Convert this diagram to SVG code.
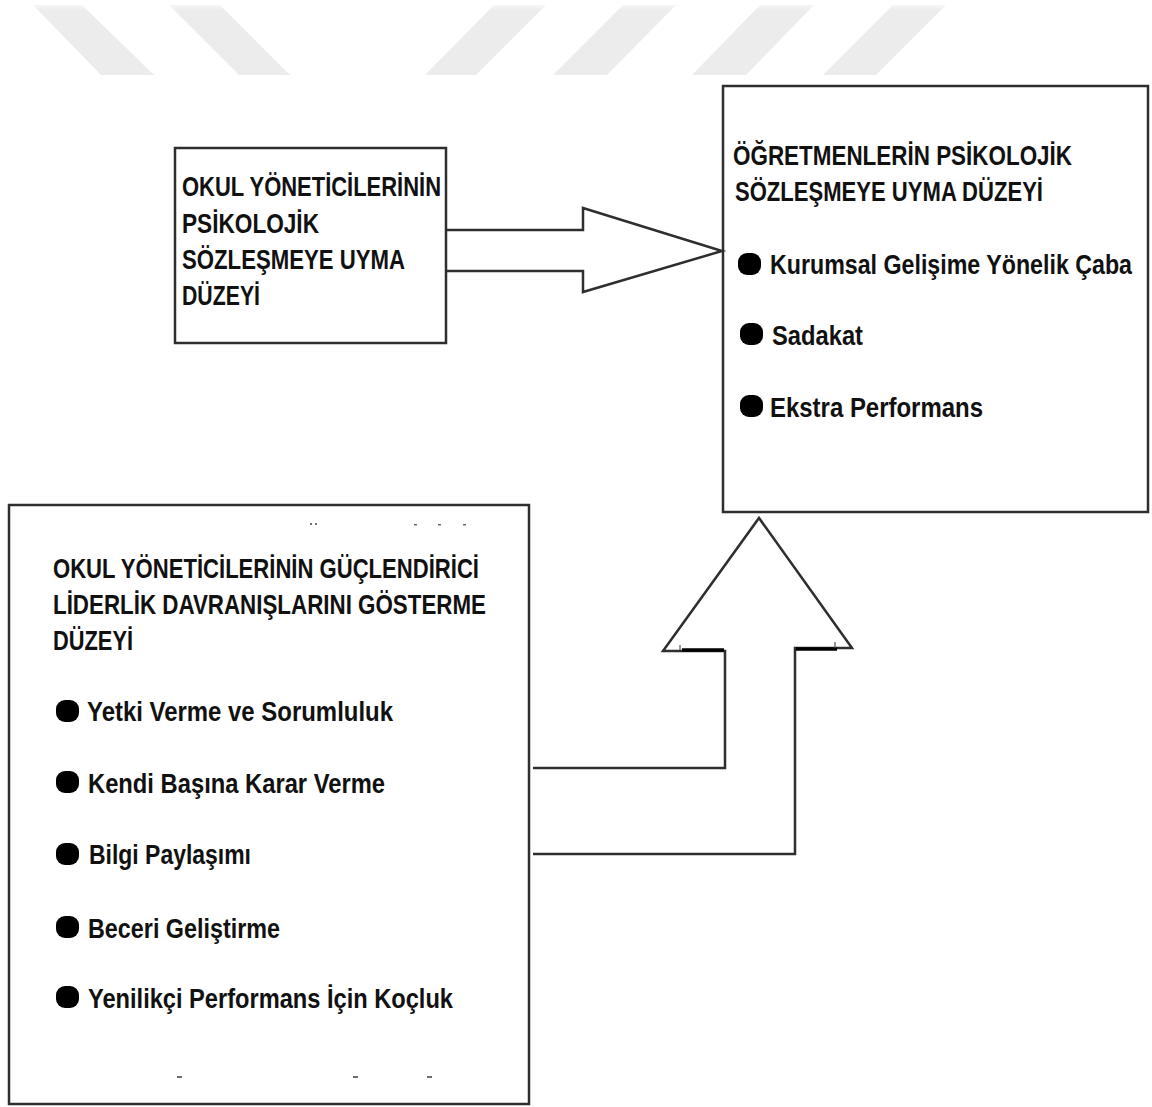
<svg xmlns="http://www.w3.org/2000/svg" width="1152" height="1107" viewBox="0 0 1152 1107">
  <defs>
    <linearGradient id="wm" x1="0" y1="5" x2="0" y2="75" gradientUnits="userSpaceOnUse">
      <stop offset="0" stop-color="#f6f6f6"/>
      <stop offset="0.08" stop-color="#ececec"/>
      <stop offset="1" stop-color="#ececec"/>
    </linearGradient>
    <style>
      .box { fill: #ffffff; stroke: #2e2e2e; stroke-width: 2.5; }
      .t { font-family: "Liberation Sans Narrow", "Liberation Sans", Arial, sans-serif; font-weight: bold; font-size: 28.5px; fill: #111111; }
      .b { font-family: "Liberation Sans Narrow", "Liberation Sans", Arial, sans-serif; font-weight: bold; font-size: 27.5px; fill: #111111; }
      .dot { fill: #000000; }
      .arrow { fill: none; stroke: #2e2e2e; stroke-width: 2.5; stroke-linejoin: miter; }
      .heavy { fill: none; stroke: #000000; stroke-width: 3.5; }
      .tick { fill: none; stroke: #555555; stroke-width: 1.2; }
      .mark { fill: #6a6f78; }
      .wm { fill: url(#wm); }
    </style>
  </defs>

  <rect width="1152" height="1107" fill="#ffffff"/>

  <!-- background stripes -->
  <g id="watermark">
    <polygon class="wm" points="33,5 82,5 154,75 101,75"/>
    <polygon class="wm" points="169,5 220,5 290,75 239,75"/>
    <polygon class="wm" points="494,5 546,5 476,75 425,75"/>
    <polygon class="wm" points="623,5 676,5 607,75 553,75"/>
    <polygon class="wm" points="760,5 814,5 746,75 692,75"/>
    <polygon class="wm" points="893,5 946,5 876,75 823,75"/>
  </g>

  <!-- school administrators' compliance -->
  <g id="node-yonetici-uyma">
    <rect class="box" x="175" y="148" width="271" height="195"/>
    <text class="t" x="182" y="196" textLength="259" lengthAdjust="spacingAndGlyphs">OKUL YÖNETİCİLERİNİN</text>
    <text class="t" x="182" y="233" textLength="137" lengthAdjust="spacingAndGlyphs">PSİKOLOJİK</text>
    <text class="t" x="182" y="269" textLength="223" lengthAdjust="spacingAndGlyphs">SÖZLEŞMEYE UYMA</text>
    <text class="t" x="182" y="305" textLength="78" lengthAdjust="spacingAndGlyphs">DÜZEYİ</text>
  </g>

  <!-- teachers' compliance -->
  <g id="node-ogretmen-uyma">
    <rect class="box" x="723" y="86" width="425" height="426"/>
    <text class="t" x="733" y="165" textLength="339" lengthAdjust="spacingAndGlyphs">ÖĞRETMENLERİN PSİKOLOJİK</text>
    <text class="t" x="735" y="201" textLength="308" lengthAdjust="spacingAndGlyphs">SÖZLEŞMEYE UYMA DÜZEYİ</text>
    <rect class="dot" x="738" y="253" width="23" height="22" rx="9"/>
    <text class="b" x="770" y="274" textLength="362" lengthAdjust="spacingAndGlyphs">Kurumsal Gelişime Yönelik Çaba</text>
    <rect class="dot" x="740" y="323" width="23" height="22" rx="9"/>
    <text class="b" x="772" y="345" textLength="91" lengthAdjust="spacingAndGlyphs">Sadakat</text>
    <rect class="dot" x="740" y="395" width="23" height="22" rx="9"/>
    <text class="b" x="770" y="417" textLength="213" lengthAdjust="spacingAndGlyphs">Ekstra Performans</text>
  </g>

  <!-- empowering leadership behaviours -->
  <g id="node-guclendirici-liderlik">
    <rect class="box" x="9" y="505" width="520" height="599"/>
    <rect class="mark" x="310" y="523" width="2" height="2"/>
    <rect class="mark" x="315" y="523" width="2" height="2"/>
    <rect class="mark" x="414" y="524" width="3" height="1.5"/>
    <rect class="mark" x="438" y="524" width="3" height="1.5"/>
    <rect class="mark" x="463" y="524" width="3" height="1.5"/>
    <text class="t" x="53" y="578" textLength="426" lengthAdjust="spacingAndGlyphs">OKUL YÖNETİCİLERİNİN GÜÇLENDİRİCİ</text>
    <text class="t" x="53" y="614" textLength="433" lengthAdjust="spacingAndGlyphs">LİDERLİK DAVRANIŞLARINI GÖSTERME</text>
    <text class="t" x="53" y="650" textLength="80" lengthAdjust="spacingAndGlyphs">DÜZEYİ</text>
    <rect class="dot" x="56" y="700" width="23" height="22" rx="9"/>
    <text class="b" x="87" y="721" textLength="306" lengthAdjust="spacingAndGlyphs">Yetki Verme ve Sorumluluk</text>
    <rect class="dot" x="56" y="771" width="23" height="22" rx="9"/>
    <text class="b" x="88" y="793" textLength="297" lengthAdjust="spacingAndGlyphs">Kendi Başına Karar Verme</text>
    <rect class="dot" x="56" y="843" width="23" height="22" rx="9"/>
    <text class="b" x="89" y="864" textLength="162" lengthAdjust="spacingAndGlyphs">Bilgi Paylaşımı</text>
    <rect class="dot" x="56" y="916" width="23" height="22" rx="9"/>
    <text class="b" x="88" y="938" textLength="192" lengthAdjust="spacingAndGlyphs">Beceri Geliştirme</text>
    <rect class="dot" x="56" y="986" width="23" height="22" rx="9"/>
    <text class="b" x="88" y="1008" textLength="365" lengthAdjust="spacingAndGlyphs">Yenilikçi Performans İçin Koçluk</text>
    <rect class="mark" x="177" y="1076" width="5" height="2"/>
    <rect class="mark" x="353" y="1076" width="5" height="2"/>
    <rect class="mark" x="427" y="1076" width="5" height="2"/>
  </g>

  <!-- block arrows -->
  <g id="connectors">
    <path class="arrow" d="M446,230 H583 V208 L722,251 L583,292 V271 H446"/>
    <path class="arrow" d="M533,768 H725 V651 H663 L759,518 L852,648 H795 V854 H533"/>
    <line class="heavy" x1="682" y1="650" x2="724" y2="650"/>
    <line class="heavy" x1="796" y1="649" x2="837" y2="649"/>
    <line class="tick" x1="680" y1="645" x2="680" y2="650"/>
    <line class="tick" x1="835" y1="642" x2="835" y2="648"/>
  </g>
</svg>
